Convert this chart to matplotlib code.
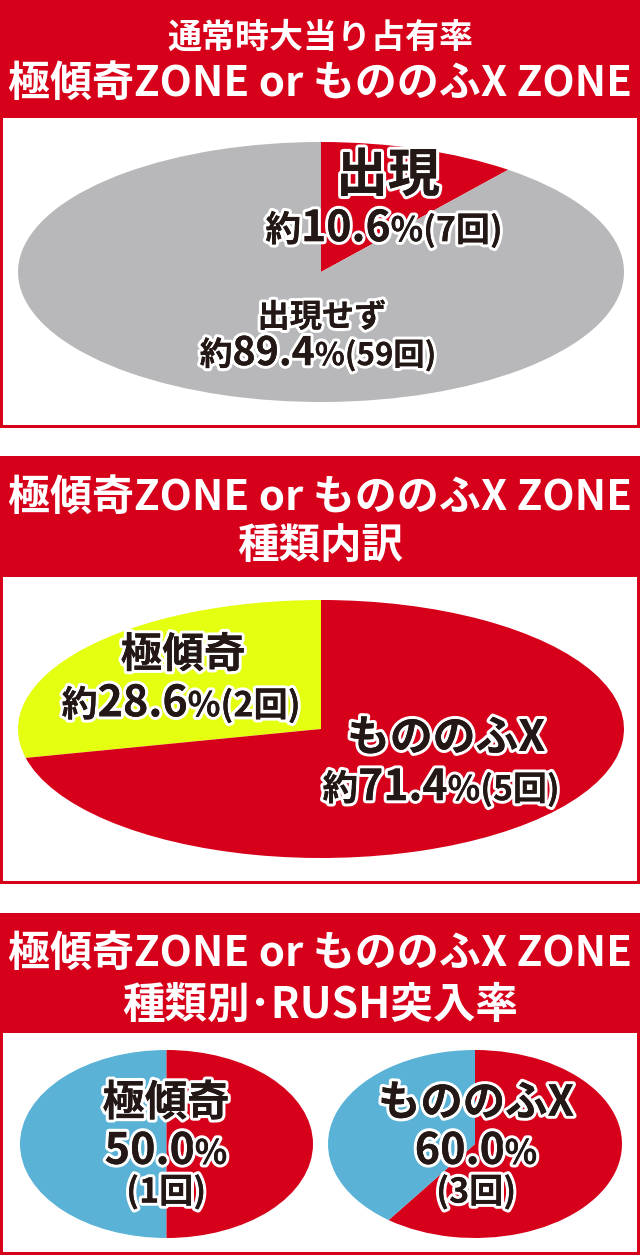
import matplotlib
matplotlib.use('Agg')
import matplotlib.pyplot as plt
import matplotlib.patheffects as pe
from matplotlib.patches import Rectangle

plt.rcParams['font.family'] = ['Noto Sans CJK JP', 'DejaVu Sans']

# ---------------- data ----------------
title_top = "通常時大当り占有率"
title_main = "極傾奇ZONE or もののふX ZONE"
title_types = "種類内訳"
title_rush = "種類別･RUSH突入率"

share_labels = ["出現", "出現せず"]
share_pct = [10.6, 89.4]
share_counts = [7, 59]

type_labels = ["極傾奇", "もののふX"]
type_pct = [28.6, 71.4]
type_counts = [2, 5]

rush_labels = ["極傾奇", "もののふX"]
rush_pct = [50.0, 60.0]
rush_counts = [1, 3]

# ---------------- style ----------------
W, H = 640, 1255
RED = '#d7001a'
GRAY = '#b8b8ba'
YELLOW = '#e4ff10'
BLUE = '#5ab2d6'
INK = '#231815'

fig = plt.figure(figsize=(W / 100, H / 100), dpi=100)
fig.patch.set_facecolor('white')
bg = fig.add_axes([0, 0, 1, 1])
bg.set_xlim(0, W)
bg.set_ylim(H, 0)
bg.axis('off')

# panels: (top of header, top of white box, bottom of panel)
panels = [(0, 118, 428), (456, 577, 884), (913, 1033, 1255)]
for top, box_top, bottom in panels:
    bg.add_patch(Rectangle((0, top), W, bottom - top, facecolor=RED, edgecolor='none'))
    bg.add_patch(Rectangle((3, box_top), W - 6, bottom - 3 - box_top,
                           facecolor='white', edgecolor='none'))


def pie_ax(x0, y0, x1, y1, values, colors, counterclock):
    ax = fig.add_axes([x0 / W, 1 - y1 / H, (x1 - x0) / W, (y1 - y0) / H])
    ax.pie(values, colors=colors, startangle=90, counterclock=counterclock,
           radius=1, wedgeprops=dict(linewidth=0))
    ax.set_aspect('auto')
    ax.set_xlim(-1, 1)
    ax.set_ylim(-1, 1)
    ax.axis('off')
    return ax


# panel 1: red 出現 wedge clockwise from top
pie_ax(18, 142, 624, 402, share_pct, [RED, GRAY], counterclock=False)
# panel 2: yellow 極傾奇 wedge counter-clockwise from top
pie_ax(18, 600, 624, 858, type_pct, [YELLOW, RED], counterclock=True)
# panel 3: RUSH rates (red = entered RUSH)
pie_ax(20, 1050, 313, 1238, [100 - rush_pct[0], rush_pct[0]], [BLUE, RED], counterclock=True)
pie_ax(328, 1050, 622, 1238, [rush_pct[1], 100 - rush_pct[1]], [RED, BLUE], counterclock=False)

fg = fig.add_axes([0, 0, 1, 1])
fg.set_xlim(0, W)
fg.set_ylim(H, 0)
fg.axis('off')
fg.patch.set_alpha(0)

renderer = fig.canvas.get_renderer()


def rich(xc, yc, parts, width, color=INK, stroke=True, weight='bold'):
    base = 30.0
    effects = [pe.withStroke(linewidth=4.5, foreground='white'), pe.Normal()] if stroke else None
    texts = []
    for s, rel in parts:
        t = fg.text(0, 0, s, fontsize=base * rel * 0.72, fontweight=weight, color=color,
                    ha='left', va='baseline')
        if effects:
            t.set_path_effects(effects)
        texts.append(t)
    tot = sum(t.get_window_extent(renderer).width for t in texts)
    scale = width / tot
    for t, (s, rel) in zip(texts, parts):
        t.set_fontsize(base * rel * 0.72 * scale)
    widths = [t.get_window_extent(renderer).width for t in texts]
    tot = sum(widths)
    em = base * scale
    baseline = yc + 0.37 * em
    x = xc - tot / 2
    for t, w in zip(texts, widths):
        t.set_position((x, baseline))
        x += w


# headers
rich(320, 35, [(title_top, 1)], 306, color='white', stroke=False)
rich(320, 80, [(title_main, 1)], 624, color='white', stroke=False)
rich(320, 494, [(title_main, 1)], 624, color='white', stroke=False)
rich(320, 543, [(title_types, 1)], 166, color='white', stroke=False)
rich(320, 950, [(title_main, 1)], 624, color='white', stroke=False)
rich(320, 1002, [(title_rush, 1)], 396, color='white', stroke=False)


def pct_parts(p, n):
    return [("約", 1), (f"{p:.1f}", 1.2), ("%", 0.95), (f"({n}回)", 0.95)]


# panel 1 labels
rich(388, 172, [(share_labels[0], 1)], 104)
rich(384, 228, pct_parts(share_pct[0], share_counts[0]), 237)
rich(322, 315, [(share_labels[1], 1)], 129)
rich(318, 353, pct_parts(share_pct[1], share_counts[1]), 237)

# panel 2 labels
rich(183, 652, [(type_labels[0], 1)], 125)
rich(181, 703, pct_parts(type_pct[0], type_counts[0]), 239)
rich(446, 735, [(type_labels[1], 1)], 198)
rich(441, 787, pct_parts(type_pct[1], type_counts[1]), 237)

# panel 3 labels
centers = [166, 476]
for xc, lab, p, n in zip(centers, rush_labels, rush_pct, rush_counts):
    w_lab = 127 if len(lab) == 3 else 196
    rich(xc, 1100, [(lab, 1)], w_lab)
    rich(xc, 1150, [(f"{p:.1f}", 1.15), ("%", 0.9)], 123)
    rich(xc, 1190, [(f"({n}回)", 1)], 80)

fig.savefig('out.png', dpi=100)
